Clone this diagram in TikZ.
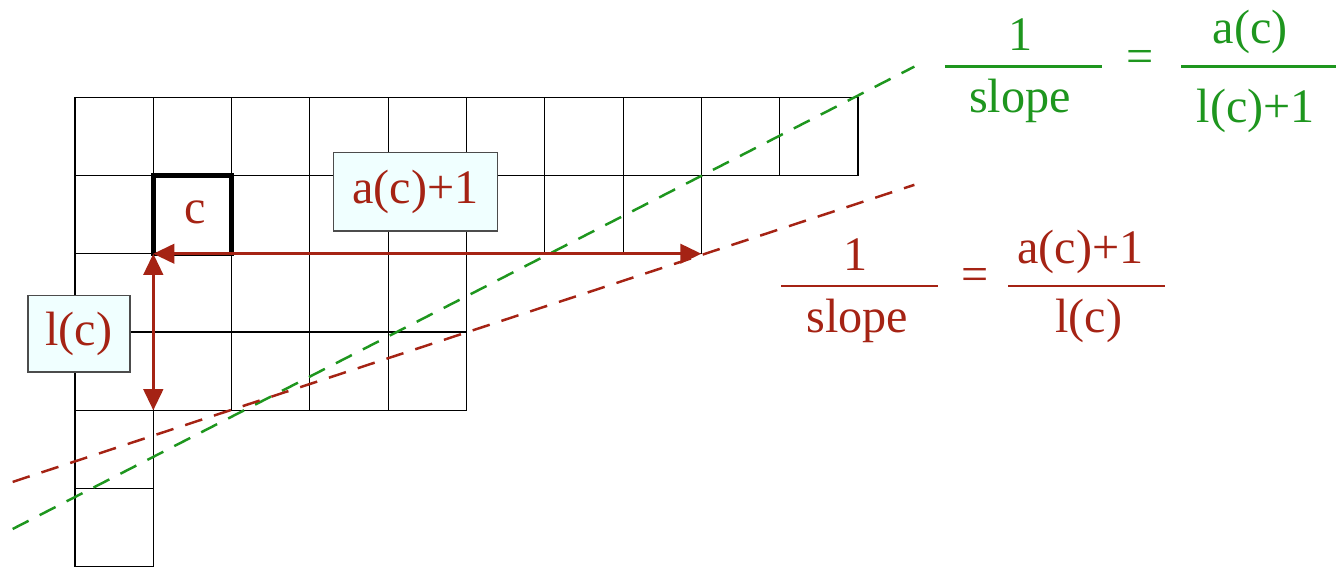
\documentclass[tikz,border=0pt]{standalone}
\usepackage{fontspec}
\setmainfont{Liberation Serif}
\newfontfamily\figserif{Liberation Serif}
\usetikzlibrary{arrows.meta}
\definecolor{ArmRed}{RGB}{165,35,20}
\definecolor{SlopeGreen}{RGB}{30,150,30}
\definecolor{TagCyan}{RGB}{240,255,255}

\begin{document}
\begin{tikzpicture}[
    cell/.style={draw=black,line width=0.4pt},
    lbl/.style={font=\figserif\fontsize{17.5}{21}\selectfont},
    tag/.style={lbl,draw=black!70,line width=0.5pt,fill=TagCyan,text=ArmRed,inner sep=0pt},
    hook/.style={ArmRed,line width=1pt,
        {Triangle[length=0.27cm,width=0.25cm]}-{Triangle[length=0.27cm,width=0.25cm]}},
    slopeline/.style={line width=0.9pt,dash pattern=on 6.5pt off 4.5pt},
    bar/.style={line width=0.9pt}
]
\useasboundingbox (-0.958,-0.038) rectangle (16.105,7.241);

% diagram, rows counted from the bottom
\foreach \y/\n in {0/1,1/1,2/5,3/5,4/8,5/10}{
    \foreach \x in {1,...,\n}{
        \draw[cell] (\x-1,\y) rectangle (\x,\y+1);
    }
}
\draw[line width=1.6pt] (1,4) rectangle (2,5);
\node[lbl,text=ArmRed,anchor=base] (c) at (1.53,4.39) {c};

% the two slopes
\coordinate (gstart) at (-0.796,0.485);
\coordinate (gend) at (10.72,6.39);
\coordinate (rstart) at (-0.796,1.086);
\coordinate (rend) at (10.72,4.88);
\draw[slopeline,SlopeGreen] (gstart) -- (gend);
\draw[slopeline,ArmRed] (rstart) -- (rend);

% arm and leg
\coordinate (corner) at (1,4);
\coordinate (armend) at (8,4);
\coordinate (legfoot) at (1,2);
\draw[hook] (corner) -- (armend);
\draw[hook] (corner) -- (legfoot);

\node[tag,minimum width=2.09cm,minimum height=1.0cm] (armtag) at (4.35,4.79) {a(c)+1};
\node[tag,minimum width=1.30cm,minimum height=0.98cm] (legtag) at (0.05,2.98) {l(c)};

% green formula
\node[lbl,text=SlopeGreen,anchor=base] (gone) at (12.07,6.59) {1};
\node[lbl,text=SlopeGreen,anchor=base] (gslope) at (12.07,5.80) {slope};
\node[lbl,text=SlopeGreen] (geq) at (13.60,6.45) {=};
\node[lbl,text=SlopeGreen,anchor=base] (garm) at (15.01,6.69) {a(c)};
\node[lbl,text=SlopeGreen,anchor=base] (gleg) at (15.08,5.68) {l(c)+1};
\draw[bar,SlopeGreen] (11.11,6.39) -- (13.12,6.39);
\draw[bar,SlopeGreen] (14.13,6.39) -- (16.13,6.39);

% red formula
\node[lbl,text=ArmRed,anchor=base] (rone) at (9.97,3.78) {1};
\node[lbl,text=ArmRed,anchor=base] (rslope) at (9.99,2.99) {slope};
\node[lbl,text=ArmRed] (req) at (11.49,3.67) {=};
\node[lbl,text=ArmRed,anchor=base] (rarm) at (12.84,3.88) {a(c)+1};
\node[lbl,text=ArmRed,anchor=base] (rleg) at (12.95,2.99) {l(c)};
\draw[bar,ArmRed] (9.02,3.59) -- (11.02,3.59);
\draw[bar,ArmRed] (11.92,3.59) -- (13.92,3.59);
\end{tikzpicture}
\end{document}
